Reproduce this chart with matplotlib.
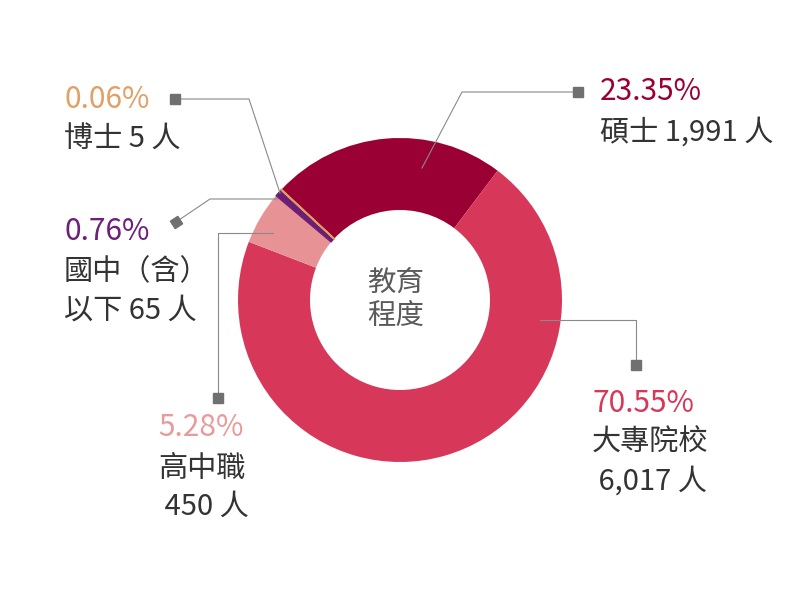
import matplotlib
matplotlib.use('Agg')
import matplotlib.pyplot as plt

plt.rcParams['font.family'] = ['Noto Sans CJK TC', 'DejaVu Sans']

# 教育程度資料 (順時針, 從碩士開始)
labels = ['碩士', '大專院校', '高中職', '國中（含）\n以下', '博士']
counts = [1991, 6017, 450, 65, 5]
pcts = ['23.35%', '70.55%', '5.28%', '0.76%', '0.06%']
count_text = ['碩士 1,991 人', '大專院校\n 6,017 人', '高中職\n 450 人',
              '國中（含）\n以下 65 人', '博士 5 人']
colors = ['#9b0035', '#d73759', '#e79295', '#6b1e73', '#df9f62']
pct_colors = ['#9b0035', '#d73759', '#e99b9c', '#6e2079', '#e0a066']

H = 600
def yy(y):
    return H - y

fig = plt.figure(figsize=(8, 6), dpi=100)
ax = fig.add_axes([0, 0, 1, 1])

wedges, _ = ax.pie(counts, colors=colors, startangle=137, counterclock=False,
                   radius=162, center=(400, 300),
                   wedgeprops=dict(width=72, linewidth=0))
# tiny slice still visible
wedges[4].set_edgecolor(colors[4])
wedges[4].set_linewidth(1.2)
wedges[3].set_edgecolor(colors[3])
wedges[3].set_linewidth(0.8)

ax.set_xlim(0, 800)
ax.set_ylim(0, 600)
ax.set_aspect('equal')
ax.axis('off')

ax.text(396, yy(300), '教育\n程度', ha='center', va='center', fontsize=20.5,
        color='#5a5a5a', linespacing=1.2)

lc = '#8a8a8a'
mc = '#707070'
# 博士
ax.plot([175, 249, 280], [yy(99), yy(99), yy(193)], color=lc, lw=0.8)
ax.plot(175, yy(99), marker='s', ms=6.5, color=mc)
# 國中
ax.plot([176, 210, 277], [yy(222), yy(199), yy(199)], color=lc, lw=0.8)
ax.plot(176, yy(222), marker=(4, 0, -12), ms=9, color=mc)
# 高中職
ax.plot([218, 218, 273], [yy(398), yy(233), yy(233)], color=lc, lw=0.8)
ax.plot(218, yy(398), marker='s', ms=6.5, color=mc)
# 碩士
ax.plot([578, 462, 422], [yy(92), yy(92), yy(168)], color=lc, lw=0.8)
ax.plot(578, yy(92), marker='s', ms=6.5, color=mc)
# 大專院校
ax.plot([636, 636, 540], [yy(365), yy(320), yy(320)], color=lc, lw=0.8)
ax.plot(636, yy(365), marker='s', ms=6.5, color=mc)

tc = '#333333'
# (pct x, pct y, text y) per slice
pos = [(600, 92, 133), (592, 403, 462), (158, 428, 488), (64, 232, 291), (64, 99, 140)]
for i, (x, yp, yt) in enumerate(pos):
    ax.text(x, yy(yp), pcts[i], ha='left', va='center', fontsize=21.5, color=pct_colors[i])
    ax.text(x, yy(yt), count_text[i], ha='left', va='center', fontsize=21, color=tc,
            linespacing=1.36)

fig.savefig('out.png', dpi=100)
